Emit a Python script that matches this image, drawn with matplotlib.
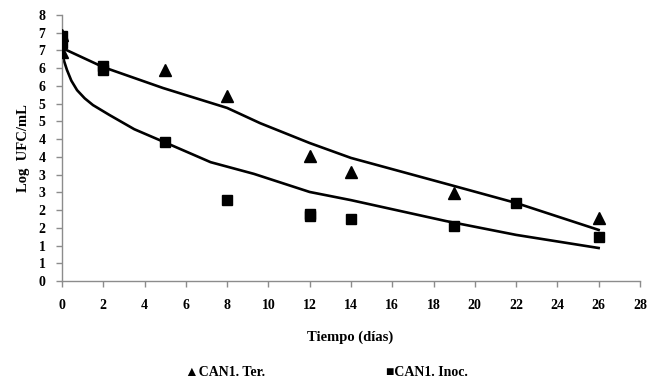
import matplotlib

matplotlib.use("Agg")
import matplotlib.pyplot as plt

# datos
ter_dias = [0, 0, 5, 8, 12, 14, 19, 26]
ter_log = [6.45, 6.95, 5.94, 5.21, 3.52, 3.07, 2.48, 1.77]

inoc_dias = [0, 0, 2, 2, 5, 8, 12, 12, 14, 19, 22, 26]
inoc_log = [6.9, 6.7, 6.05, 5.95, 3.92, 2.28, 1.9, 1.82, 1.75, 1.55, 2.2, 1.24]

# lineas de tendencia
tend_ter_dias = [0, 2, 4.9, 8, 9.6, 12, 14, 18.8, 22, 26]
tend_ter_log = [6.57, 6.03, 5.44, 4.88, 4.45, 3.89, 3.47, 2.71, 2.20, 1.44]

tend_inoc_dias = [0, 0.05, 0.1, 0.24, 0.45, 0.73, 1.1, 1.5, 2.3, 3.5, 4.94, 7.2, 9.3, 12, 14,
                  18.6, 22, 26]
tend_inoc_log = [6.51, 6.35, 6.2, 5.95, 5.65, 5.38, 5.15, 4.96, 4.68, 4.28, 3.92, 3.35, 3.02,
                 2.51, 2.28, 1.69, 1.30, 0.93]

y_ticks = [0, 0.5, 1, 1.5, 2, 2.5, 3, 3.5, 4, 4.5, 5, 5.5, 6, 6.5, 7, 7.5]
y_labels = ["0", "1", "1", "2", "2", "3", "3", "4", "4", "5", "5", "6", "6", "7", "7", "8"]
x_ticks = list(range(0, 29, 2))

plt.rcParams["font.family"] = ["Liberation Serif", "DejaVu Serif"]
plt.rcParams["font.weight"] = "bold"

fig = plt.figure(figsize=(6.57, 3.81), dpi=100)
ax = fig.add_axes([0.0944, 0.2625, 0.8796, 0.6981])

ax.plot(tend_ter_dias, tend_ter_log, color="black", lw=1.9, zorder=2)
ax.plot(tend_inoc_dias, tend_inoc_log, color="black", lw=1.9, zorder=2)
ax.plot(ter_dias, ter_log, linestyle="none", marker="^", markersize=8, color="black", zorder=3)
ax.plot(inoc_dias, inoc_log, linestyle="none", marker="s", markersize=7.3, color="black", zorder=3)

ax.set_xlim(0, 28)
ax.set_ylim(0, 7.5)
ax.set_xticks(x_ticks)
ax.set_yticks(y_ticks)
ax.set_yticklabels(y_labels)

for side in ["top", "right"]:
    ax.spines[side].set_visible(False)
for side in ["left", "bottom"]:
    ax.spines[side].set_color("#8c8c8c")
    ax.spines[side].set_linewidth(1.0)
ax.tick_params(colors="#8c8c8c", length=4, width=1.0, labelcolor="black", labelsize=10)
ax.tick_params(axis="x", pad=9)
ax.tick_params(axis="y", pad=8)
for lab in ax.get_xticklabels() + ax.get_yticklabels():
    lab.set_fontweight("bold")

ax.set_ylabel("Log  UFC/mL", fontsize=10.5, fontweight="bold", labelpad=6)
fig.text(0.533, 1 - 337 / 381, "Tiempo (días)", ha="center", va="center",
         fontsize=10.5, fontweight="bold")

# leyenda abajo, como texto con simbolos
fig.text(185 / 657, 1 - 372 / 381, "▲CAN1. Ter.", ha="left", va="center",
         fontsize=10, fontweight="bold")
fig.text(386 / 657, 1 - 372 / 381, "■CAN1. Inoc.", ha="left", va="center",
         fontsize=10, fontweight="bold")

fig.savefig("out.png", dpi=100)
